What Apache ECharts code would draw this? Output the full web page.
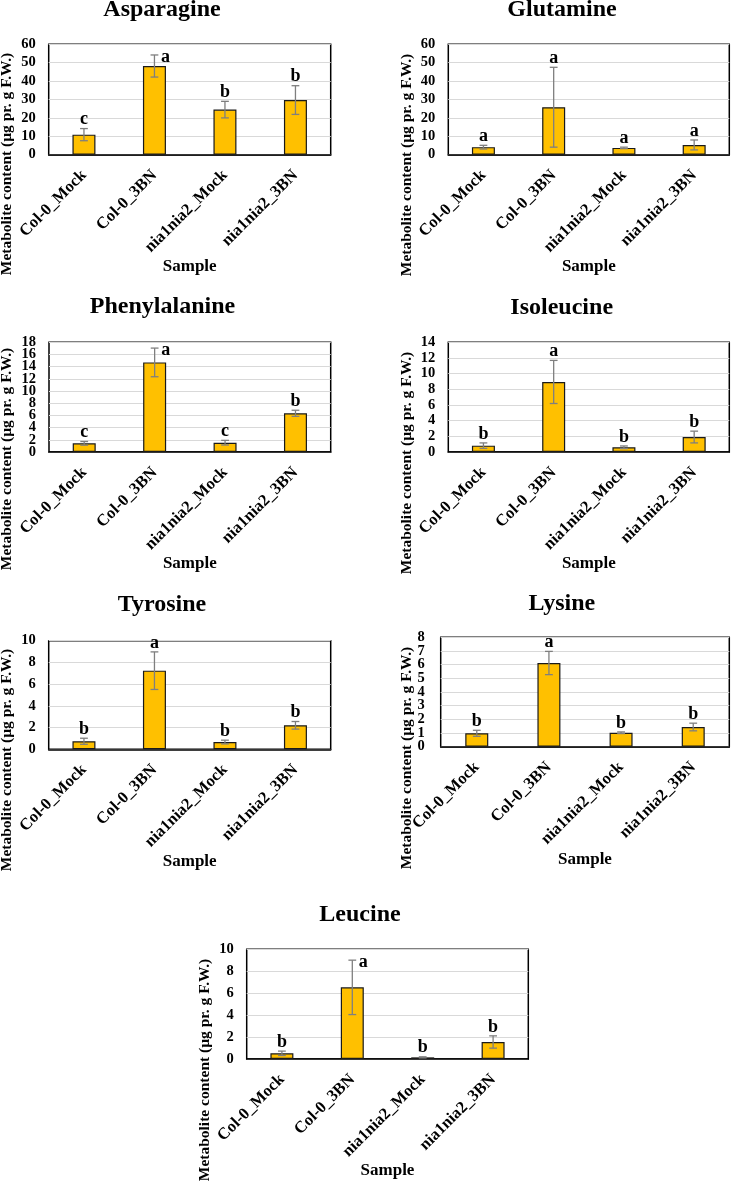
<!DOCTYPE html>
<html>
<head>
<meta charset="utf-8">
<script src="https://cdn.jsdelivr.net/npm/echarts@6/dist/echarts.min.js"></script>
<style>
html,body{margin:0;padding:0;background:#fff;}
#chart{width:731px;height:1189px;}
</style>
</head>
<body>
<div id="chart"></div>
<script>
// ---------- DATA ----------
const categories = ['Col-0_Mock', 'Col-0_3BN', 'nia1nia2_Mock', 'nia1nia2_3BN'];
const yAxisTitle = 'Metabolite content (µg pr. g F.W.)';
const xAxisTitle = 'Sample';

const asparagineMean = [10.9, 48.2, 24.5, 29.7];
const asparagineErr = [3.3, 6.0, 4.5, 7.8];
const asparagineLetters = ['c', 'a', 'b', 'b'];
const asparagineAxis = [0, 60, 10];

const glutamineMean = [4.1, 25.8, 3.7, 5.3];
const glutamineErr = [1.0, 21.7, 0.4, 2.7];
const glutamineLetters = ['a', 'a', 'a', 'a'];
const glutamineAxis = [0, 60, 10];

const phenylalanineMean = [1.42, 14.7, 1.53, 6.35];
const phenylalanineErr = [0.3, 2.35, 0.38, 0.5];
const phenylalanineLetters = ['c', 'a', 'c', 'b'];
const phenylalanineAxis = [0, 18, 2];

const isoleucineMean = [0.81, 8.94, 0.6, 1.91];
const isoleucineErr = [0.35, 2.75, 0.17, 0.75];
const isoleucineLetters = ['b', 'a', 'b', 'b'];
const isoleucineAxis = [0, 14, 2];

const tyrosineMean = [0.74, 7.24, 0.67, 2.21];
const tyrosineErr = [0.28, 1.73, 0.17, 0.35];
const tyrosineLetters = ['b', 'a', 'b', 'b'];
const tyrosineAxis = [0, 10, 2];

const lysineMean = [0.98, 6.12, 1.02, 1.44];
const lysineErr = [0.22, 0.85, 0.06, 0.28];
const lysineLetters = ['b', 'a', 'b', 'b'];
const lysineAxis = [0, 8, 1];

const leucineMean = [0.52, 6.53, 0.15, 1.55];
const leucineErr = [0.2, 2.48, 0.05, 0.56];
const leucineLetters = ['b', 'a', 'b', 'b'];
const leucineAxis = [0, 10, 2];

// ---------- LAYOUT ----------
const FONT = "'Liberation Serif', 'Times New Roman', serif";
const panels = [
  {name: 'Asparagine', mean: asparagineMean, err: asparagineErr, letters: asparagineLetters, axis: asparagineAxis,
   grid: [48.7, 44.3, 282, 110.4], title: [162, 10], ylab: [7, 164], xlab: [189.7, 266.7], lblMargin: 13, place: ['top','right','top','top']},
  {name: 'Glutamine', mean: glutamineMean, err: glutamineErr, letters: glutamineLetters, axis: glutamineAxis,
   grid: [448.3, 44.3, 281, 110.4], title: [562, 10], ylab: [407.3, 165], xlab: [588.8, 266.7], lblMargin: 13, place: ['top','top','top','top']},
  {name: 'Phenylalanine', mean: phenylalanineMean, err: phenylalanineErr, letters: phenylalanineLetters, axis: phenylalanineAxis,
   grid: [49, 342.3, 281.7, 109.7], title: [162.5, 307.2], ylab: [7, 459], xlab: [189.8, 564], lblMargin: 13, place: ['top','right','top','top']},
  {name: 'Isoleucine', mean: isoleucineMean, err: isoleucineErr, letters: isoleucineLetters, axis: isoleucineAxis,
   grid: [448.3, 342.3, 281, 109.7], title: [561.7, 307.7], ylab: [407.3, 463], xlab: [588.8, 564], lblMargin: 13, place: ['top','top','top','top']},
  {name: 'Tyrosine', mean: tyrosineMean, err: tyrosineErr, letters: tyrosineLetters, axis: tyrosineAxis,
   grid: [48.7, 640.7, 282, 108.6], title: [162, 604.7], ylab: [7, 760], xlab: [189.7, 861.7], lblMargin: 13, place: ['top','top','top','top']},
  {name: 'Lysine', mean: lysineMean, err: lysineErr, letters: lysineLetters, axis: lysineAxis,
   grid: [440.7, 637.3, 288.6, 109.4], title: [561.8, 603.3], ylab: [406.7, 758], xlab: [585, 859.3], lblMargin: 16, place: ['top','top','top','top']},
  {name: 'Leucine', mean: leucineMean, err: leucineErr, letters: leucineLetters, axis: leucineAxis,
   grid: [246.7, 949.3, 281.6, 109.7], title: [360, 915], ylab: [205, 1070], xlab: [387.5, 1171], lblMargin: 13, place: ['top','right','top','top']}
];

const grids = [], xAxes = [], yAxes = [], series = [], graphics = [];

panels.forEach((p, i) => {
  grids.push({
    left: p.grid[0], top: p.grid[1], width: p.grid[2], height: p.grid[3],
    show: true, borderColor: '#000', borderWidth: 1.5, backgroundColor: '#fff'
  });
  xAxes.push({
    type: 'category', gridIndex: i, data: categories,
    axisLine: {show: true, lineStyle: {color: '#000', width: 1.5}},
    axisTick: {show: false},
    axisLabel: {interval: 0, rotate: 45, margin: 18, color: '#000', fontFamily: FONT, fontWeight: 'bold', fontSize: 16.5, hideOverlap: false}
  });
  const lo = p.axis[0], hi = p.axis[1];
  const lblStyle = {color: '#000', fontFamily: FONT, fontWeight: 'bold', fontSize: 14.5};
  // main axis: interior tick labels
  yAxes.push({
    type: 'value', gridIndex: i, min: lo, max: hi, interval: p.axis[2], position: 'left', offset: 0,
    axisLine: {show: false}, axisTick: {show: false},
    splitLine: {show: true, lineStyle: {color: '#d9d9d9', width: 1}},
    axisLabel: Object.assign({margin: p.lblMargin, showMinLabel: true, showMaxLabel: true, hideOverlap: false,
      formatter: v => (v === lo || v === hi) ? '' : String(v)}, lblStyle)
  });
  // companion axis (same scale): end tick labels
  yAxes.push({
    type: 'value', gridIndex: i, min: lo, max: hi, interval: p.axis[2], position: 'left', offset: 0,
    axisLine: {show: false}, axisTick: {show: false}, splitLine: {show: false},
    axisLabel: Object.assign({margin: p.lblMargin, showMinLabel: true, showMaxLabel: true, hideOverlap: false,
      formatter: v => (v === lo || v === hi) ? String(v) : ''}, lblStyle)
  });
  const yi = yAxes.length - 2;
  series.push({
    type: 'bar', xAxisIndex: i, yAxisIndex: yi, barWidth: 23,
    data: p.mean,
    itemStyle: {color: '#FFC000', borderColor: '#1a1a1a', borderWidth: 1.2},
    silent: true, animation: false
  });
  const letters = p.letters, place = p.place;
  series.push({
    type: 'custom', xAxisIndex: i, yAxisIndex: yi, z: 10, animation: false, silent: true,
    data: p.mean.map((m, k) => [k, m, p.err[k]]),
    renderItem: function (params, api) {
      const k = api.value(0), m = api.value(1), e = api.value(2);
      const top = api.coord([k, m + e]);
      const bot = api.coord([k, m - e]);
      const x = top[0], cap = 3.9;
      const ls = {stroke: '#7f7f7f', lineWidth: 1.3};
      const idx = params.dataIndex;
      const right = place[idx] === 'right';
      return {
        type: 'group',
        children: [
          {type: 'line', shape: {x1: x, y1: top[1], x2: x, y2: bot[1]}, style: ls},
          {type: 'line', shape: {x1: x - cap, y1: top[1], x2: x + cap, y2: top[1]}, style: ls},
          {type: 'line', shape: {x1: x - cap, y1: bot[1], x2: x + cap, y2: bot[1]}, style: ls},
          {type: 'text', x: right ? x + 11 : x, y: right ? top[1] + 2 : top[1] - 9,
           style: {text: letters[idx], fill: '#000', font: 'bold 18px ' + FONT, align: 'center', verticalAlign: 'middle'}}
        ]
      };
    }
  });
  graphics.push({type: 'text', x: p.title[0], y: p.title[1], silent: true,
    style: {text: p.name, fill: '#000', font: 'bold 24px ' + FONT, align: 'center', verticalAlign: 'middle'}});
  graphics.push({type: 'text', x: p.ylab[0], y: p.ylab[1], rotation: Math.PI / 2, silent: true,
    style: {text: yAxisTitle, fill: '#000', font: 'bold 15.5px ' + FONT, align: 'center', verticalAlign: 'middle'}});
  graphics.push({type: 'text', x: p.xlab[0], y: p.xlab[1], silent: true,
    style: {text: xAxisTitle, fill: '#000', font: 'bold 17px ' + FONT, align: 'center', verticalAlign: 'middle'}});
});

const chart = echarts.init(document.getElementById('chart'), null, {renderer: 'canvas'});
chart.setOption({
  backgroundColor: '#fff',
  animation: false,
  grid: grids, xAxis: xAxes, yAxis: yAxes, series: series,
  graphic: graphics
});
</script>
</body>
</html>
